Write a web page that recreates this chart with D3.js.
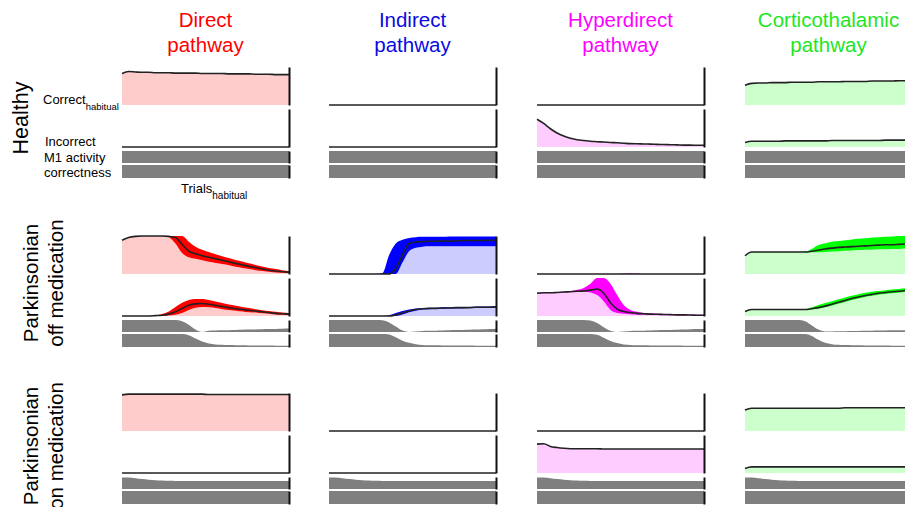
<!DOCTYPE html>
<html>
<head>
<meta charset="utf-8">
<script src="https://cdn.jsdelivr.net/npm/d3@7"></script>
<style>
  body { margin: 0; background: #fff; }
  text { font-family: "Liberation Sans", Arial, sans-serif; }
</style>
</head>
<body>
<script>
// ---- data, trials 0..100 ----
const trials = [0,4,8,12,16,20,24,28,32,36,40,44,48,52,56,60,64,68,72,76,80,84,88,92,96,100];

const pathways = ["Direct", "Indirect", "Hyperdirect", "Corticothalamic"];
const conditions = [["Healthy"], ["Parkinsonian", "off medication"], ["Parkinsonian", "on medication"]];

const flatZero = [0,0,0,0,0,0,0,0,0,0,0,0,0,0,0,0,0,0,0,0,0,0,0,0,0,0];
const fullBar  = [1,1,1,1,1,1,1,1,1,1,1,1,1,1,1,1,1,1,1,1,1,1,1,1,1,1];

// healthy
const hDirCor = [0.83,0.88,0.87,0.86,0.86,0.85,0.85,0.85,0.84,0.84,0.84,0.84,0.83,0.83,0.83,0.83,0.82,0.82,0.82,0.82,0.81,0.81,0.81,0.80,0.80,0.80];
const hHypInc = [0.73,0.62,0.48,0.37,0.29,0.23,0.19,0.17,0.15,0.14,0.13,0.12,0.11,0.10,0.09,0.085,0.08,0.075,0.07,0.065,0.06,0.055,0.05,0.05,0.045,0.045];
const hCorCor = [0.52,0.57,0.58,0.58,0.59,0.59,0.59,0.60,0.60,0.60,0.60,0.61,0.61,0.61,0.61,0.62,0.62,0.62,0.62,0.63,0.63,0.63,0.63,0.64,0.64,0.64];
const hCorInc = [0.12,0.15,0.15,0.15,0.15,0.15,0.16,0.16,0.16,0.16,0.16,0.16,0.16,0.17,0.17,0.17,0.17,0.17,0.17,0.17,0.17,0.18,0.18,0.18,0.18,0.18];

// parkinsonian off medication
const offDirCor   = [0.89,0.96,0.99,1.0,1.0,1.0,1.0,0.99,0.96,0.78,0.6,0.53,0.48,0.44,0.40,0.36,0.32,0.28,0.24,0.20,0.17,0.13,0.10,0.08,0.06,0.05];
const offDirCorHi = [0.89,0.96,0.99,1.0,1.0,1.0,1.0,1.0,1.0,1.0,0.85,0.72,0.64,0.58,0.52,0.47,0.42,0.37,0.33,0.28,0.24,0.20,0.16,0.13,0.10,0.08];
const offDirCorLo = [0.89,0.96,0.99,1.0,1.0,1.0,1.0,0.97,0.8,0.55,0.44,0.40,0.36,0.32,0.29,0.26,0.23,0.19,0.16,0.13,0.10,0.08,0.06,0.04,0.03,0.02];
const offDirInc   = [0,0,0,0,0,0.01,0.02,0.05,0.11,0.2,0.28,0.32,0.33,0.31,0.28,0.25,0.22,0.19,0.17,0.15,0.13,0.11,0.09,0.07,0.06,0.05];
const offDirIncHi = [0,0,0,0,0,0.02,0.05,0.12,0.24,0.35,0.42,0.45,0.45,0.42,0.38,0.34,0.30,0.27,0.24,0.21,0.18,0.15,0.13,0.11,0.09,0.08];
const offDirIncLo = [0,0,0,0,0,0,0,0.01,0.03,0.08,0.16,0.22,0.24,0.23,0.21,0.18,0.16,0.14,0.12,0.10,0.09,0.07,0.06,0.04,0.03,0.02];
const offDirM1  = [1,1,1,1,1,1,1,1,0.99,0.9,0.6,0.2,0.0,0.1,0.12,0.14,0.15,0.17,0.18,0.2,0.21,0.23,0.24,0.26,0.28,0.3];
const offDirAcc = [1,1,1,1,1,1,1,1,1,1,0.9,0.65,0.42,0.27,0.2,0.17,0.15,0.14,0.13,0.12,0.12,0.11,0.11,0.1,0.1,0.1];

const offIndCor   = [0,0,0,0,0,0,0,0,0,0,0.15,0.5,0.8,0.84,0.85,0.86,0.86,0.87,0.87,0.87,0.88,0.88,0.88,0.88,0.89,0.89];
const offIndCorHi = [0,0,0,0,0,0,0,0,0.02,0.5,0.8,0.9,0.95,0.97,0.98,0.98,0.98,0.98,0.99,0.99,0.99,0.99,0.99,0.99,0.99,0.99];
const offIndCorLo = [0,0,0,0,0,0,0,0,0,0,0,0.3,0.6,0.69,0.72,0.73,0.73,0.73,0.73,0.73,0.73,0.73,0.73,0.73,0.73,0.73];
const offIndInc   = [0,0,0,0,0,0,0,0,0,0,0.03,0.08,0.13,0.17,0.19,0.20,0.20,0.21,0.21,0.22,0.22,0.22,0.23,0.23,0.23,0.24];
const offIndIncHi = [0,0,0,0,0,0,0,0,0,0.02,0.08,0.13,0.17,0.2,0.21,0.22,0.22,0.23,0.23,0.24,0.24,0.24,0.25,0.25,0.25,0.26];
const offIndIncLo = [0,0,0,0,0,0,0,0,0,0,0,0.04,0.1,0.14,0.17,0.18,0.19,0.19,0.2,0.2,0.2,0.21,0.21,0.21,0.22,0.22];
const offIndM1  = [1,1,1,1,1,1,1,1,0.97,0.8,0.45,0.12,0.0,0.05,0.08,0.1,0.11,0.13,0.14,0.16,0.17,0.19,0.2,0.22,0.24,0.27];
const offIndAcc = [1,1,1,1,1,1,1,1,1,0.97,0.75,0.48,0.32,0.22,0.16,0.14,0.13,0.12,0.12,0.11,0.11,0.11,0.1,0.1,0.1,0.1];

const offHypCorHi = [0,0,0,0,0,0,0,0,0,0,0,0,0,0.01,0.02,0.01,0,0,0,0,0,0,0,0,0,0];
const offHypInc   = [0.6,0.61,0.61,0.62,0.63,0.64,0.65,0.66,0.68,0.71,0.6,0.35,0.18,0.12,0.09,0.07,0.06,0.05,0.045,0.04,0.035,0.03,0.03,0.025,0.02,0.02];
const offHypIncHi = [0.61,0.62,0.62,0.63,0.64,0.66,0.69,0.74,0.85,1.0,1.0,0.85,0.55,0.28,0.16,0.11,0.08,0.07,0.06,0.055,0.05,0.045,0.04,0.035,0.03,0.03];
const offHypIncLo = [0.6,0.6,0.6,0.61,0.62,0.63,0.64,0.64,0.62,0.55,0.38,0.16,0.08,0.06,0.045,0.035,0.03,0.03,0.025,0.02,0.02,0.015,0.015,0.01,0.01,0.01];
const offHypM1  = [1,1,1,1,1,1,1,1,0.95,0.75,0.4,0.1,0.0,0.05,0.08,0.1,0.11,0.13,0.14,0.16,0.17,0.19,0.2,0.22,0.24,0.26];
const offHypAcc = [1,1,1,1,1,1,1,1,1,0.95,0.72,0.46,0.3,0.2,0.16,0.14,0.13,0.12,0.12,0.11,0.11,0.11,0.1,0.1,0.1,0.1];

const offCorCor   = [0.48,0.58,0.58,0.58,0.58,0.58,0.58,0.58,0.58,0.58,0.6,0.63,0.66,0.68,0.7,0.71,0.72,0.73,0.74,0.75,0.76,0.77,0.77,0.78,0.79,0.79];
const offCorCorHi = [0.48,0.58,0.58,0.58,0.58,0.58,0.58,0.58,0.58,0.59,0.66,0.76,0.81,0.85,0.87,0.89,0.91,0.93,0.94,0.96,0.97,0.98,0.99,1.0,1.0,1.0];
const offCorCorLo = [0.48,0.57,0.57,0.57,0.57,0.57,0.57,0.57,0.57,0.57,0.57,0.57,0.58,0.59,0.60,0.61,0.62,0.63,0.64,0.64,0.65,0.65,0.66,0.66,0.67,0.67];
const offCorInc   = [0.12,0.17,0.17,0.17,0.17,0.17,0.17,0.17,0.17,0.17,0.19,0.22,0.26,0.31,0.36,0.41,0.46,0.5,0.54,0.57,0.6,0.62,0.64,0.65,0.67,0.68];
const offCorIncHi = [0.12,0.17,0.17,0.17,0.17,0.17,0.17,0.17,0.17,0.18,0.23,0.29,0.34,0.39,0.44,0.49,0.53,0.57,0.61,0.64,0.66,0.68,0.70,0.71,0.73,0.74];
const offCorIncLo = [0.12,0.17,0.17,0.17,0.17,0.17,0.17,0.17,0.17,0.17,0.18,0.19,0.23,0.27,0.32,0.37,0.42,0.46,0.5,0.53,0.56,0.58,0.6,0.61,0.63,0.64];
const offCorM1  = [1,1,1,1,1,1,1,1,1,0.9,0.55,0.2,0.05,0.05,0.06,0.07,0.08,0.09,0.1,0.11,0.12,0.13,0.14,0.15,0.15,0.16];
const offCorAcc = [1,1,1,1,1,1,1,1,1,1,0.85,0.55,0.32,0.22,0.17,0.15,0.14,0.13,0.12,0.12,0.11,0.11,0.1,0.1,0.1,0.1];

// parkinsonian on medication
const onDirCor = [0.95,0.97,0.97,0.97,0.97,0.97,0.97,0.97,0.97,0.97,0.97,0.97,0.97,0.96,0.96,0.96,0.96,0.96,0.96,0.96,0.96,0.96,0.96,0.96,0.96,0.96];
const onHypInc = [0.76,0.77,0.70,0.67,0.65,0.64,0.64,0.64,0.64,0.64,0.63,0.63,0.63,0.63,0.63,0.63,0.63,0.63,0.63,0.63,0.63,0.63,0.63,0.63,0.63,0.63];
const onCorCor = [0.55,0.6,0.6,0.6,0.6,0.6,0.6,0.6,0.6,0.6,0.6,0.6,0.6,0.6,0.6,0.61,0.61,0.61,0.61,0.61,0.61,0.61,0.61,0.61,0.61,0.61];
const onCorInc = [0.12,0.16,0.16,0.16,0.16,0.16,0.16,0.16,0.16,0.16,0.16,0.16,0.16,0.16,0.16,0.16,0.16,0.16,0.16,0.16,0.16,0.16,0.16,0.16,0.16,0.16];
const onM1 = [0.95,0.96,0.9,0.83,0.77,0.72,0.7,0.68,0.67,0.67,0.67,0.67,0.67,0.67,0.67,0.67,0.67,0.67,0.67,0.67,0.67,0.67,0.67,0.67,0.67,0.67];

const panels = [
  {row:0, col:0, cor:hDirCor,  inc:flatZero, m1:fullBar, acc:fullBar},
  {row:0, col:1, cor:flatZero, inc:flatZero, m1:fullBar, acc:fullBar},
  {row:0, col:2, cor:flatZero, inc:hHypInc,  m1:fullBar, acc:fullBar},
  {row:0, col:3, cor:hCorCor,  inc:hCorInc,  m1:fullBar, acc:fullBar},
  {row:1, col:0, cor:offDirCor, corHi:offDirCorHi, corLo:offDirCorLo, inc:offDirInc, incHi:offDirIncHi, incLo:offDirIncLo, m1:offDirM1, acc:offDirAcc},
  {row:1, col:1, cor:offIndCor, corHi:offIndCorHi, corLo:offIndCorLo, inc:offIndInc, incHi:offIndIncHi, incLo:offIndIncLo, m1:offIndM1, acc:offIndAcc},
  {row:1, col:2, cor:flatZero, corHi:offHypCorHi, corLo:flatZero, inc:offHypInc, incHi:offHypIncHi, incLo:offHypIncLo, m1:offHypM1, acc:offHypAcc},
  {row:1, col:3, cor:offCorCor, corHi:offCorCorHi, corLo:offCorCorLo, inc:offCorInc, incHi:offCorIncHi, incLo:offCorIncLo, m1:offCorM1, acc:offCorAcc},
  {row:2, col:0, cor:onDirCor, inc:flatZero, m1:onM1, acc:fullBar},
  {row:2, col:1, cor:flatZero, inc:flatZero, m1:onM1, acc:fullBar},
  {row:2, col:2, cor:flatZero, inc:onHypInc, m1:onM1, acc:fullBar},
  {row:2, col:3, cor:onCorCor, inc:onCorInc, m1:onM1, acc:fullBar}
];

// ---- layout / style ----
const WIDTH = 905, HEIGHT = 507;
const COL_X = [122, 329, 537, 745];
const PANEL_W = 167;
const ROW_Y = [67, 236, 393];
const TITLE_COLORS = ["#ff0000", "#0a0ae0", "#ff00ff", "#1ee61e"];
const BAND_COLORS = ["#ff0000", "#0000ff", "#ff00ff", "#00ff00"];
const LIGHT_COLORS = ["#ffcccc", "#ccccff", "#ffccff", "#ccffcc"];
const GRAY = "#7f7f7f";

const svg = d3.select("body").append("svg")
    .attr("width", WIDTH)
    .attr("height", HEIGHT);

// column titles
pathways.forEach((p, c) => {
    const cx = COL_X[c] + PANEL_W / 2;
    const t = svg.append("text")
        .attr("text-anchor", "middle")
        .attr("font-size", "20.5px")
        .attr("fill", TITLE_COLORS[c]);
    t.append("tspan").attr("x", cx).attr("y", 27).text(p);
    t.append("tspan").attr("x", cx).attr("y", 52).text("pathway");
});

// row labels
const ROW_LABEL_Y = [118, 283, 446];
conditions.forEach((lines, r) => {
    const t = svg.append("text")
        .attr("transform", "translate(0," + ROW_LABEL_Y[r] + ") rotate(-90)")
        .attr("text-anchor", "middle")
        .attr("font-size", r === 0 ? "21.5px" : "20.5px");
    if (lines.length === 1) {
        t.append("tspan").attr("x", 0).attr("y", 28).text(lines[0]);
    } else {
        t.append("tspan").attr("x", 0).attr("y", 38).text(lines[0]);
        t.append("tspan").attr("x", 0).attr("y", 63).text(lines[1]);
    }
});

// side labels (healthy block)
const lab = svg.append("g").attr("font-size", "13px");
const corr = lab.append("text").attr("x", 43).attr("y", 104);
corr.append("tspan").text("Correct");
corr.append("tspan").attr("font-size", "9.5px").attr("dy", 6).text("habitual");
lab.append("text").attr("x", 45).attr("y", 146).text("Incorrect");
lab.append("text").attr("x", 44).attr("y", 162).text("M1 activity");
lab.append("text").attr("x", 44).attr("y", 177).text("correctness");
const tr = lab.append("text").attr("x", 181).attr("y", 193);
tr.append("tspan").text("Trials");
tr.append("tspan").attr("font-size", "10px").attr("dy", 6).text("habitual");

function drawSeries(g, x, y, mean, hi, lo, c) {
    const idx = d3.range(trials.length);
    const top = lo || mean;
    g.append("path")
        .datum(idx)
        .attr("fill", LIGHT_COLORS[c])
        .attr("d", d3.area().curve(d3.curveMonotoneX)
            .x(i => x(trials[i])).y0(y(0)).y1(i => y(top[i])));
    if (hi) {
        g.append("path")
            .datum(idx)
            .attr("fill", BAND_COLORS[c])
            .attr("d", d3.area().curve(d3.curveMonotoneX)
                .x(i => x(trials[i])).y0(i => y(lo[i])).y1(i => y(hi[i])));
    }
    g.append("path")
        .datum(idx)
        .attr("fill", "none")
        .attr("stroke", "#222")
        .attr("stroke-width", 1.6)
        .attr("d", d3.line().curve(d3.curveMonotoneX)
            .x(i => x(trials[i])).y(i => y(mean[i])));
}

function drawBar(g, x, y, vals) {
    const idx = d3.range(trials.length);
    g.append("path")
        .datum(idx)
        .attr("fill", GRAY)
        .attr("d", d3.area().curve(d3.curveMonotoneX)
            .x(i => x(trials[i])).y0(y(0)).y1(i => y(vals[i])));
}

function rightAxis(g, x0, y, width) {
    g.append("g")
        .attr("transform", "translate(" + x0 + ",0)")
        .call(d3.axisRight(y).tickValues([]).tickSizeOuter(0))
        .call(a => a.select(".domain").attr("stroke", "#111").attr("stroke-width", width));
}

panels.forEach(p => {
    const x0 = COL_X[p.col];
    const top = ROW_Y[p.row];
    const x = d3.scaleLinear().domain([0, 100]).range([x0, x0 + PANEL_W]);
    const yCor = d3.scaleLinear().domain([0, 1]).range([top + 38, top]);
    const yInc = d3.scaleLinear().domain([0, 1]).range([top + 80, top + 42]);
    const yM1  = d3.scaleLinear().domain([0, 1]).range([top + 96, top + 84]);
    const yAcc = d3.scaleLinear().domain([0, 1]).range([top + 111, top + 98]);
    const g = svg.append("g");

    drawSeries(g, x, yCor, p.cor, p.corHi, p.corLo, p.col);
    drawSeries(g, x, yInc, p.inc, p.incHi, p.incLo, p.col);
    drawBar(g, x, yM1, p.m1);
    drawBar(g, x, yAcc, p.acc);

    const xr = x0 + PANEL_W;
    rightAxis(g, xr, yCor, 2);
    rightAxis(g, xr, yInc, 2);
    rightAxis(g, xr, yM1, 2);
    rightAxis(g, xr, yAcc, 2);
});
</script>
</body>
</html>
